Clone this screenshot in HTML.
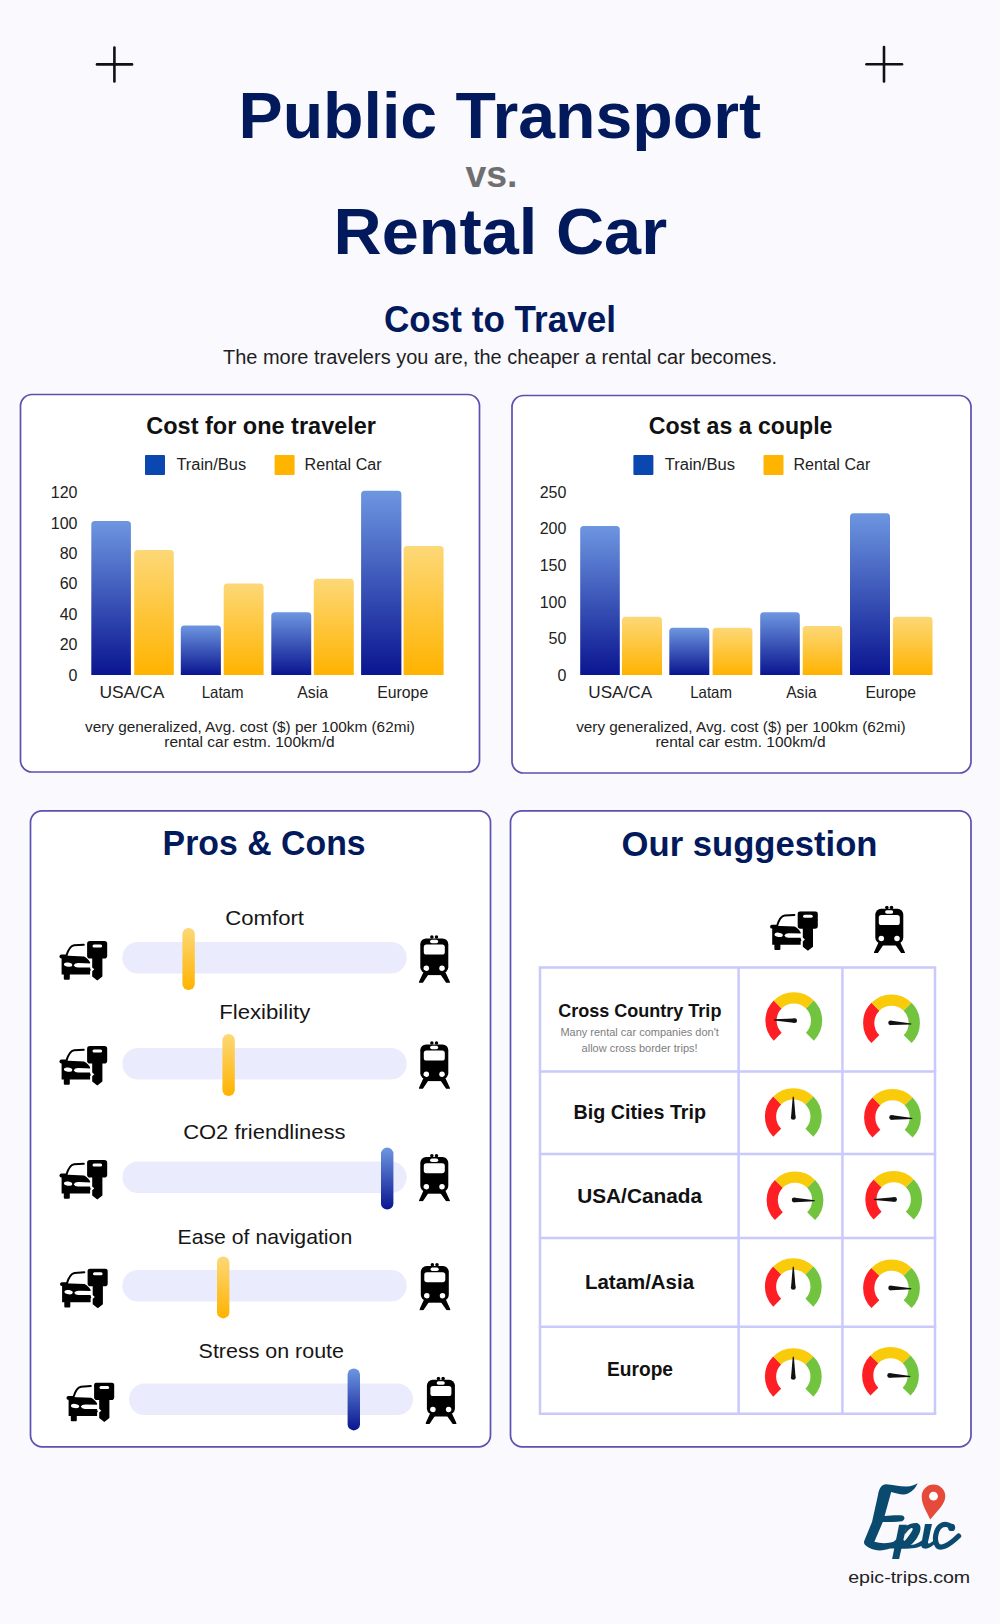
<!DOCTYPE html>
<html><head><meta charset="utf-8">
<title>Public Transport vs. Rental Car</title>
<style>
html,body{margin:0;padding:0;}
body{width:1000px;height:1624px;background:#f9f9fe;position:relative;overflow:hidden;font-family:"Liberation Sans",sans-serif;}
.panel{position:absolute;box-sizing:border-box;background:#fff;border-radius:12px;}
#layer{position:absolute;left:0;top:0;}
</style></head>
<body>
<div class="panel" style="left:20.5px;top:394.5px;width:459px;height:377.5px;"></div>
<div class="panel" style="left:512px;top:395.5px;width:459px;height:377.5px;"></div>
<div class="panel" style="left:30.5px;top:810.8px;width:460px;height:636px;"></div>
<div class="panel" style="left:510.5px;top:810.8px;width:460.5px;height:636px;"></div>
<svg id="layer" width="1000" height="1624" viewBox="0 0 1000 1624" font-family="'Liberation Sans', sans-serif">
<defs>
 <linearGradient id="gb" x1="0" y1="0" x2="0" y2="1"><stop offset="0" stop-color="#6d96e0"/><stop offset="1" stop-color="#0a1590"/></linearGradient>
 <linearGradient id="gy" x1="0" y1="0" x2="0" y2="1"><stop offset="0" stop-color="#fdd877"/><stop offset="1" stop-color="#ffb300"/></linearGradient>
 <linearGradient id="tb" x1="0" y1="0" x2="0" y2="1"><stop offset="0" stop-color="#6d96e0"/><stop offset="1" stop-color="#0a1590"/></linearGradient>
 <linearGradient id="ty" x1="0" y1="0" x2="0" y2="1"><stop offset="0" stop-color="#fdd877"/><stop offset="1" stop-color="#ffb300"/></linearGradient>
</defs>
<g fill="none" stroke="#5b51ae" stroke-width="1.7">
<rect x="20.5" y="394.5" width="459" height="377.5" rx="11.5"/>
<rect x="512" y="395.5" width="459" height="377.5" rx="11.5"/>
<rect x="30.5" y="810.8" width="460" height="636" rx="11.5"/>
<rect x="510.5" y="810.8" width="460.5" height="636" rx="11.5"/>
</g>

<g stroke="#111" stroke-width="2.6" stroke-linecap="round"><line x1="114.4" y1="47.5" x2="114.4" y2="81.5"/><line x1="97" y1="64.4" x2="132" y2="64.4"/><line x1="884" y1="47" x2="884" y2="81.5"/><line x1="866.5" y1="64.2" x2="902" y2="64.2"/></g>
<text x="238.5" y="137.5" font-size="65.5" font-weight="bold" fill="#021a5b" textLength="522.5" lengthAdjust="spacingAndGlyphs">Public Transport</text>
<text x="465.5" y="187" font-size="36" font-weight="bold" fill="#6f6f6f" textLength="52" lengthAdjust="spacingAndGlyphs">vs.</text>
<text x="333.6" y="253.6" font-size="65.5" font-weight="bold" fill="#021a5b" textLength="333.5" lengthAdjust="spacingAndGlyphs">Rental Car</text>
<text x="384" y="332.1" font-size="36" font-weight="bold" fill="#021a5b" textLength="232" lengthAdjust="spacingAndGlyphs">Cost to Travel</text>
<text x="223" y="364" font-size="20" fill="#1e1e1e" textLength="554" lengthAdjust="spacingAndGlyphs">The more travelers you are, the cheaper a rental car becomes.</text>
<text x="261.15" y="433.7" font-size="23.5" font-weight="bold" fill="#111" text-anchor="middle" textLength="229.7" lengthAdjust="spacingAndGlyphs">Cost for one traveler</text>
<rect x="145" y="455" width="20" height="20" rx="1" fill="#0a47b0"/>
<text x="176.4" y="470" font-size="16" fill="#222" textLength="69.79999999999998" lengthAdjust="spacingAndGlyphs">Train/Bus</text>
<rect x="274.6" y="455" width="20" height="20" rx="1" fill="#ffb400"/>
<text x="304.6" y="470" font-size="16" fill="#222" textLength="77.0" lengthAdjust="spacingAndGlyphs">Rental Car</text>
<text x="77.5" y="498.1" font-size="16" fill="#222" text-anchor="end">120</text>
<text x="77.5" y="529.0" font-size="16" fill="#222" text-anchor="end">100</text>
<text x="77.5" y="559.1" font-size="16" fill="#222" text-anchor="end">80</text>
<text x="77.5" y="589.0" font-size="16" fill="#222" text-anchor="end">60</text>
<text x="77.5" y="620.0" font-size="16" fill="#222" text-anchor="end">40</text>
<text x="77.5" y="650.4" font-size="16" fill="#222" text-anchor="end">20</text>
<text x="77.5" y="681.4" font-size="16" fill="#222" text-anchor="end">0</text>
<path d="M91.3,675 L91.3,524.6 Q91.3,521.1 94.8,521.1 L127.4,521.1 Q130.9,521.1 130.9,524.6 L130.9,675 Z" fill="url(#gb)"/>
<path d="M180.8,675 L180.8,629.1 Q180.8,625.6 184.3,625.6 L217.4,625.6 Q220.9,625.6 220.9,629.1 L220.9,675 Z" fill="url(#gb)"/>
<path d="M271.3,675 L271.3,615.7 Q271.3,612.2 274.8,612.2 L307.7,612.2 Q311.2,612.2 311.2,615.7 L311.2,675 Z" fill="url(#gb)"/>
<path d="M361.1,675 L361.1,494.2 Q361.1,490.7 364.6,490.7 L397.9,490.7 Q401.4,490.7 401.4,494.2 L401.4,675 Z" fill="url(#gb)"/>
<path d="M134.2,675 L134.2,553.5 Q134.2,550 137.7,550 L170.3,550 Q173.8,550 173.8,553.5 L173.8,675 Z" fill="url(#gy)"/>
<path d="M223.7,675 L223.7,586.9 Q223.7,583.4 227.2,583.4 L260.1,583.4 Q263.6,583.4 263.6,586.9 L263.6,675 Z" fill="url(#gy)"/>
<path d="M313.8,675 L313.8,582.2 Q313.8,578.7 317.3,578.7 L350.3,578.7 Q353.8,578.7 353.8,582.2 L353.8,675 Z" fill="url(#gy)"/>
<path d="M403.6,675 L403.6,549.6 Q403.6,546.1 407.1,546.1 L440.1,546.1 Q443.6,546.1 443.6,549.6 L443.6,675 Z" fill="url(#gy)"/>
<text x="131.85000000000002" y="697.5" font-size="16.5" fill="#222" text-anchor="middle" textLength="64.9" lengthAdjust="spacingAndGlyphs">USA/CA</text>
<text x="222.6" y="697.5" font-size="16.5" fill="#222" text-anchor="middle" textLength="41.80000000000001" lengthAdjust="spacingAndGlyphs">Latam</text>
<text x="312.70000000000005" y="697.5" font-size="16.5" fill="#222" text-anchor="middle" textLength="30.80000000000001" lengthAdjust="spacingAndGlyphs">Asia</text>
<text x="402.7" y="697.5" font-size="16.5" fill="#222" text-anchor="middle" textLength="51.0" lengthAdjust="spacingAndGlyphs">Europe</text>
<text x="250.0" y="732" font-size="14" fill="#222" text-anchor="middle" textLength="329.79999999999995" lengthAdjust="spacingAndGlyphs">very generalized, Avg. cost ($) per 100km (62mi)</text>
<text x="249.45000000000002" y="747.2" font-size="14" fill="#222" text-anchor="middle" textLength="170.3" lengthAdjust="spacingAndGlyphs">rental car estm. 100km/d</text>
<text x="740.5999999999999" y="433.7" font-size="23.5" font-weight="bold" fill="#111" text-anchor="middle" textLength="183.60000000000002" lengthAdjust="spacingAndGlyphs">Cost as a couple</text>
<rect x="633.4" y="455" width="20" height="20" rx="1" fill="#0a47b0"/>
<text x="664.7" y="470" font-size="16" fill="#222" textLength="70.29999999999995" lengthAdjust="spacingAndGlyphs">Train/Bus</text>
<rect x="763.5" y="455" width="20" height="20" rx="1" fill="#ffb400"/>
<text x="793.5" y="470" font-size="16" fill="#222" textLength="76.79999999999995" lengthAdjust="spacingAndGlyphs">Rental Car</text>
<text x="566.4" y="497.9" font-size="16" fill="#222" text-anchor="end">250</text>
<text x="566.4" y="533.9" font-size="16" fill="#222" text-anchor="end">200</text>
<text x="566.4" y="571.4" font-size="16" fill="#222" text-anchor="end">150</text>
<text x="566.4" y="607.6" font-size="16" fill="#222" text-anchor="end">100</text>
<text x="566.4" y="643.9" font-size="16" fill="#222" text-anchor="end">50</text>
<text x="566.4" y="681.4" font-size="16" fill="#222" text-anchor="end">0</text>
<path d="M580.2,675 L580.2,529.4 Q580.2,525.9 583.7,525.9 L616.3,525.9 Q619.8,525.9 619.8,529.4 L619.8,675 Z" fill="url(#gb)"/>
<path d="M669.3,675 L669.3,631.2 Q669.3,627.7 672.8,627.7 L705.8,627.7 Q709.3,627.7 709.3,631.2 L709.3,675 Z" fill="url(#gb)"/>
<path d="M760.2,675 L760.2,615.8 Q760.2,612.3 763.7,612.3 L796.3,612.3 Q799.8,612.3 799.8,615.8 L799.8,675 Z" fill="url(#gb)"/>
<path d="M850,675 L850,516.8 Q850,513.3 853.5,513.3 L886.5,513.3 Q890,513.3 890,516.8 L890,675 Z" fill="url(#gb)"/>
<path d="M622,675 L622,620.2 Q622,616.7 625.5,616.7 L658.5,616.7 Q662,616.7 662,620.2 L662,675 Z" fill="url(#gy)"/>
<path d="M712.6,675 L712.6,631.2 Q712.6,627.7 716.1,627.7 L748.9,627.7 Q752.4,627.7 752.4,631.2 L752.4,675 Z" fill="url(#gy)"/>
<path d="M802.7,675 L802.7,629.5 Q802.7,626 806.2,626 L838.8,626 Q842.3,626 842.3,629.5 L842.3,675 Z" fill="url(#gy)"/>
<path d="M892.9,675 L892.9,620.2 Q892.9,616.7 896.4,616.7 L929.0,616.7 Q932.5,616.7 932.5,620.2 L932.5,675 Z" fill="url(#gy)"/>
<text x="620.2" y="697.5" font-size="16.5" fill="#222" text-anchor="middle" textLength="63.80000000000007" lengthAdjust="spacingAndGlyphs">USA/CA</text>
<text x="711.1" y="697.5" font-size="16.5" fill="#222" text-anchor="middle" textLength="41.799999999999955" lengthAdjust="spacingAndGlyphs">Latam</text>
<text x="801.4000000000001" y="697.5" font-size="16.5" fill="#222" text-anchor="middle" textLength="30.399999999999977" lengthAdjust="spacingAndGlyphs">Asia</text>
<text x="890.7" y="697.5" font-size="16.5" fill="#222" text-anchor="middle" textLength="50.60000000000002" lengthAdjust="spacingAndGlyphs">Europe</text>
<text x="740.9000000000001" y="732" font-size="14" fill="#222" text-anchor="middle" textLength="329.4" lengthAdjust="spacingAndGlyphs">very generalized, Avg. cost ($) per 100km (62mi)</text>
<text x="740.55" y="747.2" font-size="14" fill="#222" text-anchor="middle" textLength="170.30000000000007" lengthAdjust="spacingAndGlyphs">rental car estm. 100km/d</text>
<defs>
<symbol id="car" viewBox="0 0 48 40">
 <rect x="27.6" y="0" width="20.1" height="17.6" rx="2.8" fill="#000"/>
 <rect x="33" y="3.6" width="9.6" height="3" rx="1.5" fill="#fff"/>
 <path d="M32.7,16 L42.9,16 L42.9,35.6 L37.8,39.6 L32.7,35.6 L32.7,30.2 L34.8,28.3 L32.7,26.4 Z" fill="#000"/>
 <path d="M6.9,14.8 C8.6,9 10.6,4.9 14.6,4.3 L24.3,3.7" fill="none" stroke="#000" stroke-width="2" stroke-linecap="round"/>
 <rect x="0" y="13.6" width="8" height="3.8" rx="1.9" fill="#000"/>
 <path d="M2.1,16.5 L3.8,14.6 L24.6,15.4 C27,16.8 28.8,18.6 30,20.2 L30.6,21.4 L30.6,27.5 L31.4,29 L30.6,30 L30.6,33.6 L2.1,33.6 Z" fill="#000"/>
 <rect x="4.3" y="30" width="6" height="8.8" rx="1" fill="#000"/>
 <ellipse cx="8.6" cy="23.6" rx="4.2" ry="2.1" transform="rotate(8 8.6 23.6)" fill="#fff"/>
 <path d="M14.2,24.2 Q15.4,22 19,22.1 L31.5,22.4 L31.5,26.5 L18.5,26.5 Q15.2,26.5 14.2,24.2 Z" fill="#fff"/>
</symbol>
<symbol id="train" viewBox="0 0 31 48">
 <circle cx="12.85" cy="2.1" r="1.75" fill="#000"/><circle cx="17.5" cy="2.1" r="1.75" fill="#000"/>
 <rect x="1.3" y="3.4" width="28" height="34.6" rx="5.8" fill="#000"/>
 <rect x="6.5" y="35" width="17.5" height="5.1" fill="#000"/>
 <rect x="11.1" y="4.8" width="8.1" height="3.5" rx="1.75" fill="#fff"/>
 <rect x="4.8" y="9.6" width="21" height="10" rx="2.6" fill="#fff"/>
 <circle cx="7.3" cy="33.2" r="2.75" fill="#fff"/><circle cx="23" cy="33.2" r="2.75" fill="#fff"/>
 <path d="M5.4,35 L10,38.6 L3.9,47.7 L-0.4,47.7 Z M25.4,35 L20.8,38.6 L27.1,47.7 L31.3,47.7 Z" fill="#000"/>
</symbol>
</defs>
<text x="264.15" y="854.8" font-size="34.5" font-weight="bold" fill="#021a5b" text-anchor="middle" textLength="203.1" lengthAdjust="spacingAndGlyphs">Pros &amp; Cons</text>
<text x="264.65" y="925.2" font-size="21" fill="#161616" text-anchor="middle" textLength="78.7" lengthAdjust="spacingAndGlyphs">Comfort</text>
<rect x="122.4" y="942" width="284.3" height="31.5" rx="15.75" fill="#eaebfc"/>
<rect x="182.4" y="928" width="12.4" height="62" rx="6.2" fill="url(#ty)"/>
<use href="#car" x="59" y="941" width="49" height="40"/>
<use href="#train" x="419" y="935" width="31" height="48"/>
<text x="264.79999999999995" y="1019" font-size="21" fill="#161616" text-anchor="middle" textLength="91.2" lengthAdjust="spacingAndGlyphs">Flexibility</text>
<rect x="122.4" y="1048" width="284.3" height="31.5" rx="15.75" fill="#eaebfc"/>
<rect x="222.4" y="1034" width="12.4" height="62" rx="6.2" fill="url(#ty)"/>
<use href="#car" x="59" y="1046" width="49" height="40"/>
<use href="#train" x="419" y="1041" width="31" height="48"/>
<text x="264.35" y="1139" font-size="21" fill="#161616" text-anchor="middle" textLength="162.3" lengthAdjust="spacingAndGlyphs">CO2 friendliness</text>
<rect x="122.4" y="1161.6" width="284.3" height="31.5" rx="15.75" fill="#eaebfc"/>
<rect x="381" y="1147.6" width="12.4" height="62" rx="6.2" fill="url(#tb)"/>
<use href="#car" x="59" y="1160" width="49" height="40"/>
<use href="#train" x="419" y="1153.6" width="31" height="48"/>
<text x="264.85" y="1244" font-size="21" fill="#161616" text-anchor="middle" textLength="174.7" lengthAdjust="spacingAndGlyphs">Ease of navigation</text>
<rect x="122.4" y="1270" width="284.3" height="31.5" rx="15.75" fill="#eaebfc"/>
<rect x="217" y="1256.4" width="12.4" height="62" rx="6.2" fill="url(#ty)"/>
<use href="#car" x="59.5" y="1268.6" width="49" height="40"/>
<use href="#train" x="419.5" y="1262.6" width="31" height="48"/>
<text x="271.3" y="1357.8" font-size="21" fill="#161616" text-anchor="middle" textLength="145.4" lengthAdjust="spacingAndGlyphs">Stress on route</text>
<rect x="129" y="1383.6" width="284.0" height="31.5" rx="15.75" fill="#eaebfc"/>
<rect x="347.6" y="1368.4" width="12.4" height="62" rx="6.2" fill="url(#tb)"/>
<use href="#car" x="66" y="1382.4" width="49" height="40"/>
<use href="#train" x="425.6" y="1376.4" width="31" height="48"/>
<text x="749.55" y="856.2" font-size="35.5" font-weight="bold" fill="#021a5b" text-anchor="middle" textLength="255.9" lengthAdjust="spacingAndGlyphs">Our suggestion</text>
<use href="#car" x="769.6" y="911.2" width="49" height="40"/>
<use href="#train" x="874" y="905.4" width="31" height="48"/>
<line x1="538.75" y1="967.5" x2="936.25" y2="967.5" stroke="#c9c9fb" stroke-width="2.5"/>
<line x1="538.75" y1="1071.4" x2="936.25" y2="1071.4" stroke="#c9c9fb" stroke-width="2.5"/>
<line x1="538.75" y1="1154" x2="936.25" y2="1154" stroke="#c9c9fb" stroke-width="2.5"/>
<line x1="538.75" y1="1238" x2="936.25" y2="1238" stroke="#c9c9fb" stroke-width="2.5"/>
<line x1="538.75" y1="1326.8" x2="936.25" y2="1326.8" stroke="#c9c9fb" stroke-width="2.5"/>
<line x1="538.75" y1="1413.7" x2="936.25" y2="1413.7" stroke="#c9c9fb" stroke-width="2.5"/>
<line x1="540" y1="967.5" x2="540" y2="1413.7" stroke="#c9c9fb" stroke-width="2.5"/>
<line x1="738.6" y1="967.5" x2="738.6" y2="1413.7" stroke="#c9c9fb" stroke-width="2.5"/>
<line x1="842.4" y1="967.5" x2="842.4" y2="1413.7" stroke="#c9c9fb" stroke-width="2.5"/>
<line x1="935" y1="967.5" x2="935" y2="1413.7" stroke="#c9c9fb" stroke-width="2.5"/>
<text x="639.8" y="1016.5" font-size="19" font-weight="bold" fill="#111" text-anchor="middle" textLength="163.2" lengthAdjust="spacingAndGlyphs">Cross Country Trip</text>
<text x="639.6" y="1036.4" font-size="10.7" fill="#7d7d7d" text-anchor="middle" textLength="158.4" lengthAdjust="spacingAndGlyphs">Many rental car companies don't</text>
<text x="639.6" y="1051.8" font-size="10.7" fill="#7d7d7d" text-anchor="middle" textLength="116" lengthAdjust="spacingAndGlyphs">allow cross border trips!</text>
<text x="639.8" y="1119" font-size="20" font-weight="bold" fill="#111" text-anchor="middle" textLength="132.4" lengthAdjust="spacingAndGlyphs">Big Cities Trip</text>
<text x="639.6" y="1202.6" font-size="20" font-weight="bold" fill="#111" text-anchor="middle" textLength="124.7" lengthAdjust="spacingAndGlyphs">USA/Canada</text>
<text x="639.5" y="1289" font-size="20" font-weight="bold" fill="#111" text-anchor="middle" textLength="109" lengthAdjust="spacingAndGlyphs">Latam/Asia</text>
<text x="640" y="1376.3" font-size="20" font-weight="bold" fill="#111" text-anchor="middle" textLength="66" lengthAdjust="spacingAndGlyphs">Europe</text>
<path d="M777.68,1036.72 A22.80,22.80 0 0 1 777.68,1004.48" fill="none" stroke="#fd1f23" stroke-width="11.20"/>
<path d="M777.68,1004.48 A22.80,22.80 0 0 1 809.92,1004.48" fill="none" stroke="#f9cb0b" stroke-width="11.20"/>
<path d="M809.92,1004.48 A22.80,22.80 0 0 1 809.92,1036.72" fill="none" stroke="#72c43f" stroke-width="11.20"/>
<path d="M793.88,1018.40 L774.03,1019.36 L773.99,1020.46 L793.72,1022.80 Z" fill="#111"/>
<circle cx="794.60" cy="1020.63" r="2.45" fill="#111"/>
<path d="M875.38,1039.02 A22.80,22.80 0 0 1 875.38,1006.78" fill="none" stroke="#fd1f23" stroke-width="11.20"/>
<path d="M875.38,1006.78 A22.80,22.80 0 0 1 907.62,1006.78" fill="none" stroke="#f9cb0b" stroke-width="11.20"/>
<path d="M907.62,1006.78 A22.80,22.80 0 0 1 907.62,1039.02" fill="none" stroke="#72c43f" stroke-width="11.20"/>
<path d="M891.38,1025.10 L911.24,1024.49 L911.30,1023.39 L891.62,1020.70 Z" fill="#111"/>
<circle cx="890.70" cy="1022.86" r="2.45" fill="#111"/>
<path d="M777.18,1132.72 A22.80,22.80 0 0 1 777.18,1100.48" fill="none" stroke="#fd1f23" stroke-width="11.20"/>
<path d="M777.18,1100.48 A22.80,22.80 0 0 1 809.42,1100.48" fill="none" stroke="#f9cb0b" stroke-width="11.20"/>
<path d="M809.42,1100.48 A22.80,22.80 0 0 1 809.42,1132.72" fill="none" stroke="#72c43f" stroke-width="11.20"/>
<path d="M795.50,1116.60 L793.85,1096.80 L792.75,1096.80 L791.10,1116.60 Z" fill="#111"/>
<circle cx="793.30" cy="1117.40" r="2.45" fill="#111"/>
<path d="M876.38,1133.62 A22.80,22.80 0 0 1 876.38,1101.38" fill="none" stroke="#fd1f23" stroke-width="11.20"/>
<path d="M876.38,1101.38 A22.80,22.80 0 0 1 908.62,1101.38" fill="none" stroke="#f9cb0b" stroke-width="11.20"/>
<path d="M908.62,1101.38 A22.80,22.80 0 0 1 908.62,1133.62" fill="none" stroke="#72c43f" stroke-width="11.20"/>
<path d="M892.38,1119.70 L912.24,1119.09 L912.30,1117.99 L892.62,1115.30 Z" fill="#111"/>
<circle cx="891.70" cy="1117.46" r="2.45" fill="#111"/>
<path d="M778.88,1216.12 A22.80,22.80 0 0 1 778.88,1183.88" fill="none" stroke="#fd1f23" stroke-width="11.20"/>
<path d="M778.88,1183.88 A22.80,22.80 0 0 1 811.12,1183.88" fill="none" stroke="#f9cb0b" stroke-width="11.20"/>
<path d="M811.12,1183.88 A22.80,22.80 0 0 1 811.12,1216.12" fill="none" stroke="#72c43f" stroke-width="11.20"/>
<path d="M794.92,1202.20 L814.77,1201.24 L814.81,1200.14 L795.08,1197.80 Z" fill="#111"/>
<circle cx="794.20" cy="1199.97" r="2.45" fill="#111"/>
<path d="M877.58,1215.62 A22.80,22.80 0 0 1 877.58,1183.38" fill="none" stroke="#fd1f23" stroke-width="11.20"/>
<path d="M877.58,1183.38 A22.80,22.80 0 0 1 909.82,1183.38" fill="none" stroke="#f9cb0b" stroke-width="11.20"/>
<path d="M909.82,1183.38 A22.80,22.80 0 0 1 909.82,1215.62" fill="none" stroke="#72c43f" stroke-width="11.20"/>
<path d="M893.70,1197.30 L873.90,1198.95 L873.90,1200.05 L893.70,1201.70 Z" fill="#111"/>
<circle cx="894.50" cy="1199.50" r="2.45" fill="#111"/>
<path d="M777.18,1302.72 A22.80,22.80 0 0 1 777.18,1270.48" fill="none" stroke="#fd1f23" stroke-width="11.20"/>
<path d="M777.18,1270.48 A22.80,22.80 0 0 1 809.42,1270.48" fill="none" stroke="#f9cb0b" stroke-width="11.20"/>
<path d="M809.42,1270.48 A22.80,22.80 0 0 1 809.42,1302.72" fill="none" stroke="#72c43f" stroke-width="11.20"/>
<path d="M795.50,1286.60 L793.85,1266.80 L792.75,1266.80 L791.10,1286.60 Z" fill="#111"/>
<circle cx="793.30" cy="1287.40" r="2.45" fill="#111"/>
<path d="M875.38,1304.12 A22.80,22.80 0 0 1 875.38,1271.88" fill="none" stroke="#fd1f23" stroke-width="11.20"/>
<path d="M875.38,1271.88 A22.80,22.80 0 0 1 907.62,1271.88" fill="none" stroke="#f9cb0b" stroke-width="11.20"/>
<path d="M907.62,1271.88 A22.80,22.80 0 0 1 907.62,1304.12" fill="none" stroke="#72c43f" stroke-width="11.20"/>
<path d="M891.42,1290.20 L911.27,1289.24 L911.31,1288.14 L891.58,1285.80 Z" fill="#111"/>
<circle cx="890.70" cy="1287.97" r="2.45" fill="#111"/>
<path d="M777.18,1392.72 A22.80,22.80 0 0 1 777.18,1360.48" fill="none" stroke="#fd1f23" stroke-width="11.20"/>
<path d="M777.18,1360.48 A22.80,22.80 0 0 1 809.42,1360.48" fill="none" stroke="#f9cb0b" stroke-width="11.20"/>
<path d="M809.42,1360.48 A22.80,22.80 0 0 1 809.42,1392.72" fill="none" stroke="#72c43f" stroke-width="11.20"/>
<path d="M795.50,1376.60 L793.85,1356.80 L792.75,1356.80 L791.10,1376.60 Z" fill="#111"/>
<circle cx="793.30" cy="1377.40" r="2.45" fill="#111"/>
<path d="M874.38,1391.62 A22.80,22.80 0 0 1 874.38,1359.38" fill="none" stroke="#fd1f23" stroke-width="11.20"/>
<path d="M874.38,1359.38 A22.80,22.80 0 0 1 906.62,1359.38" fill="none" stroke="#f9cb0b" stroke-width="11.20"/>
<path d="M906.62,1359.38 A22.80,22.80 0 0 1 906.62,1391.62" fill="none" stroke="#72c43f" stroke-width="11.20"/>
<path d="M890.38,1377.70 L910.24,1377.09 L910.30,1375.99 L890.62,1373.30 Z" fill="#111"/>
<circle cx="889.70" cy="1375.46" r="2.45" fill="#111"/>
<g fill="#0b4a6f">
<path d="M878.0,1495.0 C879,1488 882,1484.2 886,1484.2 C892,1484.2 900,1486.8 906.8,1486.6 C911,1486.4 914.5,1485 917.6,1483.3 C915.5,1488 913,1491 908,1493.5 C903,1496 896,1493 891.2,1492.0 L884.6,1516.0 C890,1515.5 897,1515 902,1515.4 C905,1515.8 905.5,1519.5 902,1521.2 C896,1522 889,1522 882.8,1522.0 L874.4,1541.8 C880,1543.5 888,1543.8 893.6,1541.8 L898.4,1537.6 L905,1541 C910,1546 914,1546 922.2,1540.2 L923,1545 C917,1549 910,1549 890,1548.6 C884,1550.5 877,1552 869.0,1547.8 C864.5,1545.5 863.5,1543.5 864.2,1541.0 L872.0,1522.0 Z"/>
<path d="M899.1,1524.8 L906.8,1524.8 L899.1,1559.1 L892.1,1559.1 Z"/>
<path d="M906,1526 C910,1523.5 914,1522.5 917,1523 C921.5,1524.5 921.5,1530 918,1536 C915,1542 911,1546 904,1547 L902,1543.7 C906,1540 909,1536 912,1531 C913.5,1528.5 912.5,1527.5 910.5,1528.5 C908,1530 906,1532.5 904.5,1535 Z"/>
<path d="M925,1524.1 L932,1524.1 L928,1542 C927.8,1544 929.5,1544 931,1542.6 L935.5,1539.5 L936.5,1542 C932,1547 928,1549 924.5,1548.6 C921,1548.2 921,1545.5 921.5,1543 Z"/>
<circle cx="951.6" cy="1527.4" r="3.6"/>
</g>
<path d="M951.6,1527.6 C949,1524 944,1523.5 940.5,1526 C935.5,1530 934,1540 937,1545 C940,1549.5 948,1546.5 958.6,1536" fill="none" stroke="#0b4a6f" stroke-width="5.2" stroke-linecap="round"/>
<path d="M930.2,1519.5 C926.5,1511 921.7,1505 921.7,1496.2 A11.8,11.8 0 0 1 945.3,1496.2 C945.3,1504 938,1510 930.2,1519.5 Z" fill="#e64a3b"/>
<circle cx="933.5" cy="1496.2" r="4.4" fill="#fff"/>
<text x="909.2" y="1582.6" font-size="17" fill="#222" text-anchor="middle" textLength="122" lengthAdjust="spacingAndGlyphs">epic-trips.com</text>
</svg>
</body></html>
